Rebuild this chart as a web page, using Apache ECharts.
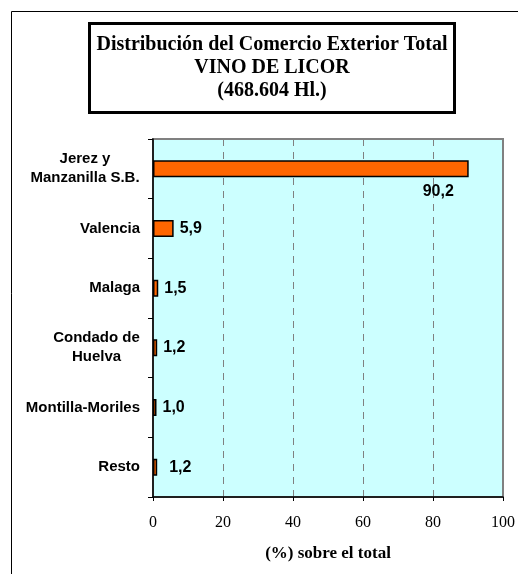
<!DOCTYPE html>
<html>
<head>
<meta charset="utf-8">
<script src="https://cdn.jsdelivr.net/npm/echarts@6/dist/echarts.min.js"></script>
<style>
  html, body { margin: 0; padding: 0; background: #ffffff; }
  #chart { width: 518px; height: 574px; }
</style>
</head>
<body>
<div id="chart"></div>
<script>
// Regions (top to bottom) and their share of total exports, in percent
const categories = [
  'Jerez y\nManzanilla S.B.',
  'Valencia',
  'Malaga',
  'Condado de\nHuelva',
  'Montilla-Moriles',
  'Resto'
];
const shares = [90.2, 5.9, 1.5, 1.2, 1.0, 1.2];
const valueLabels = ['90,2', '5,9', '1,5', '1,2', '1,0', '1,2'];
const titleLines = [
  'Distribución del Comercio Exterior Total',
  'VINO DE LICOR',
  '(468.604 Hl.)'
];
const axisName = '(%) sobre el total';

const sansFont = 'Liberation Sans, Arial, sans-serif';
const serifFont = 'Liberation Serif, Times New Roman, serif';
const catFontSize = 15;
const catLineHeight = 19;

// Multi-line category names are centred line by line inside a right-aligned block
const measureCtx = document.createElement('canvas').getContext('2d');
measureCtx.font = 'bold ' + catFontSize + 'px ' + sansFont;
const catRich = {};
const catText = categories.map((name, i) => {
  const lines = name.split('\n');
  if (lines.length === 1) return name;
  const w = Math.ceil(Math.max(...lines.map(l => measureCtx.measureText(l).width)));
  catRich['c' + i] = {
    width: w,
    align: 'center',
    fontFamily: sansFont,
    fontWeight: 'bold',
    fontSize: catFontSize,
    lineHeight: catLineHeight,
    color: '#000000'
  };
  return lines.map(l => '{c' + i + '|' + l + '}').join('\n');
});

const chart = echarts.init(document.getElementById('chart'), null, { renderer: 'canvas' });

const labelStyle = {
  show: true,
  position: 'right',
  distance: 6,
  fontFamily: sansFont,
  fontWeight: 'bold',
  fontSize: 16,
  color: '#000000'
};

const barData = shares.map((v, i) => {
  const item = { value: v, label: Object.assign({}, labelStyle, { formatter: valueLabels[i] }) };
  if (i === 0) item.label.offset = [-52, 23];
  if (i === shares.length - 1) item.label.offset = [6, 0];
  return item;
});

chart.setOption({
  animation: false,
  backgroundColor: '#ffffff',
  graphic: [
    {
      type: 'rect',
      shape: { x: 11.5, y: 11.5, width: 600, height: 600 },
      style: { fill: 'none', stroke: '#000000', lineWidth: 1 },
      silent: true
    },
    {
      type: 'rect',
      shape: { x: 89.5, y: 23.5, width: 365, height: 89 },
      style: { fill: '#ffffff', stroke: '#000000', lineWidth: 3 },
      silent: true
    },
    {
      type: 'text',
      x: 272,
      y: 33,
      style: {
        text: titleLines.join('\n'),
        fontFamily: serifFont,
        fontWeight: 'bold',
        fontSize: 20,
        lineHeight: 23,
        fill: '#000000',
        align: 'center',
        verticalAlign: 'top'
      },
      silent: true
    }
  ],
  grid: {
    left: 153,
    right: 13,
    top: 139,
    bottom: 77,
    show: true,
    backgroundColor: '#ccffff',
    borderColor: '#808080',
    borderWidth: 2
  },
  xAxis: {
    type: 'value',
    min: 0,
    max: 100,
    interval: 20,
    name: axisName,
    nameLocation: 'middle',
    nameGap: 48,
    nameTextStyle: {
      fontFamily: serifFont,
      fontWeight: 'bold',
      fontSize: 17,
      color: '#000000'
    },
    axisLine: { show: true, lineStyle: { color: '#000000', width: 1.5 } },
    axisTick: { show: true, length: 4, lineStyle: { color: '#000000', width: 1 } },
    axisLabel: {
      margin: 18,
      fontFamily: serifFont,
      fontSize: 16,
      color: '#000000'
    },
    splitLine: {
      show: true,
      showMinLine: false,
      showMaxLine: false,
      lineStyle: { color: '#808080', width: 1, type: [7, 6] }
    }
  },
  yAxis: {
    type: 'category',
    inverse: true,
    data: categories,
    axisLine: { show: true, lineStyle: { color: '#000000', width: 1.5 } },
    axisTick: { show: true, length: 5, lineStyle: { color: '#000000', width: 1 } },
    axisLabel: {
      margin: 13,
      align: 'right',
      fontFamily: sansFont,
      fontWeight: 'bold',
      fontSize: catFontSize,
      lineHeight: catLineHeight,
      color: '#000000',
      formatter: (value, index) => catText[index],
      rich: catRich
    },
    splitLine: { show: false }
  },
  series: [
    {
      type: 'bar',
      data: barData,
      barWidth: 17,
      itemStyle: {
        color: '#ff6600',
        borderColor: '#000000',
        borderWidth: 1.5
      }
    }
  ]
});
</script>
</body>
</html>
